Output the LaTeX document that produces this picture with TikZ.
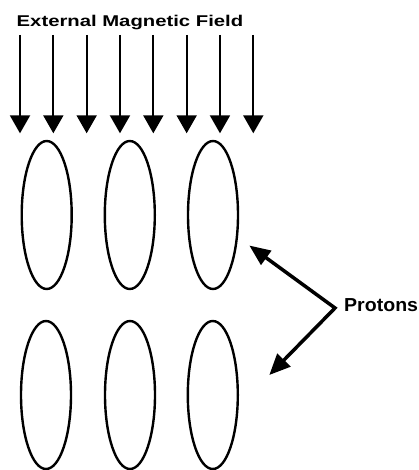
\documentclass[tikz,border=0pt]{standalone}
\usepackage{fontspec}
\usetikzlibrary{arrows.meta,shapes.geometric}
\newfontfamily\titlefont{Liberation Sans Bold}[FakeStretch=1.3]
\newfontfamily\protfont{Liberation Sans Bold}[FakeStretch=1.04]
\tikzset{
  proton/.style={draw,ellipse,line width=2.4pt,minimum width=50pt,minimum height=148pt,inner sep=0pt},
  fieldarrow/.style={line width=2pt,-{Triangle[width=20pt,length=18pt]}},
  pointer/.style={line width=3.5pt,line join=miter,{Triangle[width=17pt,length=21pt]}-{Triangle[width=18pt,length=21pt]}},
  lbl/.style={inner sep=0pt,anchor=base west}
}
\begin{document}
\begin{tikzpicture}[x=1pt,y=-1pt]
\useasboundingbox (0,0) rectangle (418,470);
\node[lbl,font=\titlefont\fontsize{15.6}{18}\selectfont] (title) at (16.5,26.7) {External Magnetic Field};
\foreach \i in {0,...,7}{
  \coordinate (ft\i) at ({20+33.33*\i},35);
  \coordinate (fb\i) at ({20+33.33*\i},133.3);
  \draw[fieldarrow] (ft\i) -- (fb\i);
}
\node[proton] (p11) at (46.7,215) {};
\node[proton] (p12) at (129.8,215) {};
\node[proton] (p13) at (213,215) {};
\node[proton] (p21) at (46,395) {};
\node[proton] (p22) at (130,395) {};
\node[proton] (p23) at (212.8,395) {};
\node[lbl,font=\protfont\fontsize{18.8}{22}\selectfont] (prot) at (344,311.7) {Protons};
\coordinate (bend) at (335,308);
\coordinate (tipA) at (249.3,245.5);
\coordinate (tipB) at (269.3,375);
\draw[pointer] (tipA) -- (bend) -- (tipB);
\end{tikzpicture}
\end{document}
